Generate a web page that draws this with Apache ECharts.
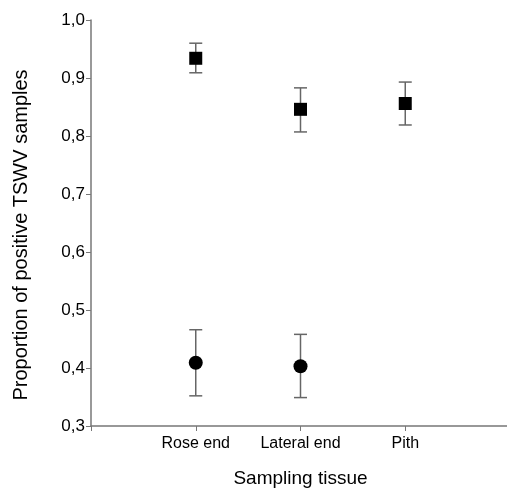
<!DOCTYPE html>
<html>
<head>
<meta charset="utf-8">
<script src="https://cdn.jsdelivr.net/npm/echarts@6/dist/echarts.min.js"></script>
<style>
html,body{margin:0;padding:0;background:#fff;}
#c{width:507px;height:488px;}
</style>
</head>
<body>
<div id="c"></div>
<script>
const categories = ['', 'Rose end', 'Lateral end', 'Pith', ''];
const yTicks = [0.3, 0.4, 0.5, 0.6, 0.7, 0.8, 0.9, 1.0];

const squareCats = ['Rose end', 'Lateral end', 'Pith'];
const squareMean = [0.934, 0.846, 0.856];
const squareLow  = [0.909, 0.807, 0.819];
const squareHigh = [0.960, 0.883, 0.893];

const circleCats = ['Rose end', 'Lateral end'];
const circleMean = [0.409, 0.403];
const circleLow  = [0.352, 0.349];
const circleHigh = [0.466, 0.458];

function errData(cats, lo, hi) {
  return cats.map((c, i) => [c, lo[i], hi[i]]);
}
function errSeries(data) {
  return {
    type: 'custom',
    z: 1,
    data: data,
    encode: { x: 0, y: [1, 2] },
    renderItem: function (params, api) {
      const c = api.value(0);
      const lo = api.coord([c, api.value(1)]);
      const hi = api.coord([c, api.value(2)]);
      const w = 6.5;
      const st = { stroke: '#666', lineWidth: 1.5, fill: null };
      return {
        type: 'group',
        children: [
          { type: 'line', shape: { x1: lo[0], y1: lo[1], x2: hi[0], y2: hi[1] }, style: st },
          { type: 'line', shape: { x1: lo[0] - w, y1: lo[1], x2: lo[0] + w, y2: lo[1] }, style: st },
          { type: 'line', shape: { x1: hi[0] - w, y1: hi[1], x2: hi[0] + w, y2: hi[1] }, style: st }
        ]
      };
    }
  };
}

const chart = echarts.init(document.getElementById('c'));
const axisColor = '#777';
const font = 'Liberation Sans, Arial, sans-serif';
chart.setOption({
  animation: false,
  backgroundColor: '#fff',
  textStyle: { fontFamily: font },
  grid: { left: 91, top: 20, width: 419, height: 406, outerBoundsMode: 'none', containLabel: false },
  xAxis: {
    type: 'category',
    data: categories,
    boundaryGap: false,
    name: 'Sampling tissue',
    nameLocation: 'middle',
    nameGap: 43,
    nameTextStyle: { fontSize: 19, color: '#000', fontFamily: font },
    axisLine: { lineStyle: { color: axisColor, width: 1.5 } },
    axisTick: { show: true, length: 5, lineStyle: { color: axisColor, width: 1 }, interval: 0 },
    axisLabel: { interval: 0, fontSize: 16, color: '#000', margin: 10 },
    splitLine: { show: false }
  },
  yAxis: {
    type: 'value',
    min: 0.3,
    max: 1.0,
    interval: 0.1,
    name: 'Proportion of positive TSWV samples',
    nameLocation: 'middle',
    nameGap: 60,
    nameTextStyle: { fontSize: 20, color: '#000', fontFamily: font, padding: [0, 0, 0, -24] },
    axisLine: { show: true, lineStyle: { color: axisColor, width: 1.5 } },
    axisTick: { show: true, length: 5, inside: false, lineStyle: { color: axisColor, width: 1 } },
    axisLabel: {
      fontSize: 17, color: '#000', margin: 6,
      formatter: v => {
        const t = yTicks.find(x => Math.abs(x - v) < 1e-6);
        return t === undefined ? '' : t.toFixed(1).replace('.', ',');
      }
    },
    splitLine: { show: false }
  },
  series: [
    errSeries(errData(squareCats, squareLow, squareHigh)),
    errSeries(errData(circleCats, circleLow, circleHigh)),
    {
      type: 'scatter',
      z: 3,
      symbol: 'rect',
      symbolSize: 13,
      itemStyle: { color: '#000', opacity: 1 },
      data: squareCats.map((c, i) => [c, squareMean[i]])
    },
    {
      type: 'scatter',
      z: 3,
      symbol: 'circle',
      symbolSize: 14,
      itemStyle: { color: '#000', opacity: 1 },
      data: circleCats.map((c, i) => [c, circleMean[i]])
    }
  ]
});
</script>
</body>
</html>
